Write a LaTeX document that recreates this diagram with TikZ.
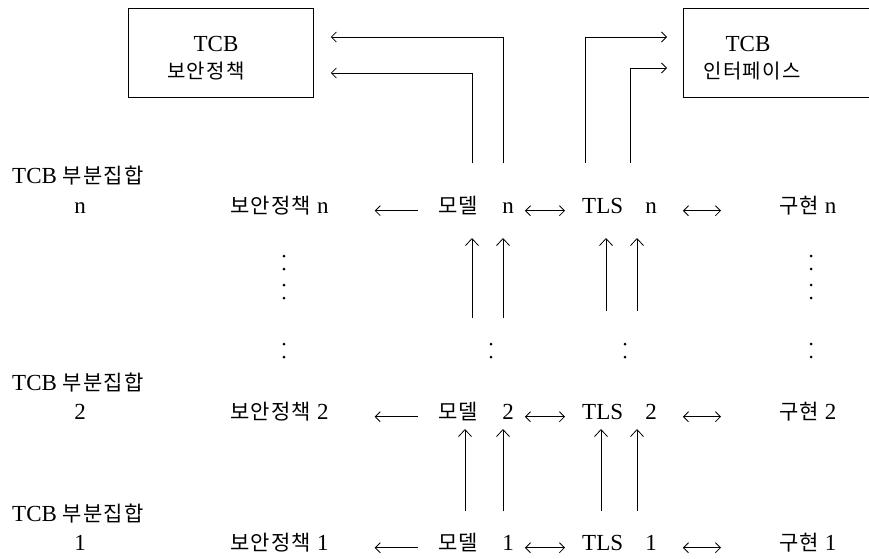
\documentclass[tikz,border=0pt]{standalone}
\usepackage{fontspec}
\setmainfont{Liberation Serif}
\newfontfamily\krfont[LetterSpace=6]{Noto Sans CJK KR}
\newcommand\korean[1]{{\fontsize{21}{25}\selectfont\krfont #1}}
\usetikzlibrary{arrows.meta}
\begin{document}
\begin{tikzpicture}[x=1pt,y=-1pt,
  txt/.style={inner sep=0pt, font=\fontsize{23}{27}\selectfont},
  ktxt/.style={inner sep=0pt, font=\fontsize{20}{24}\selectfont\krfont},
  arr/.style={line width=0.8pt, -{Straight Barb[length=5pt,width=10pt]}},
  darr/.style={line width=0.8pt, {Straight Barb[length=5pt,width=10pt]}-{Straight Barb[length=5pt,width=10pt]}},
  uarr/.style={line width=0.8pt, -{Straight Barb[length=7pt,width=13pt]}},
  dot/.style={circle, fill, inner sep=0pt, minimum size=3pt},
  box/.style={draw, line width=0.8pt, inner sep=0pt}]
\useasboundingbox (0,0) rectangle (869,558);

% top boxes
\node[box, minimum width=185pt, minimum height=89pt, anchor=north west] (lbox) at (128,8) {};
\node[txt, anchor=base] (lt1) at (216,51) {TCB};
\node[ktxt, anchor=base] (lt2) at (206,78) {보안정책};
\begin{scope}
\clip (0,0) rectangle (869,558);
\node[box, minimum width=200pt, minimum height=89pt, anchor=north west] (rbox) at (683,8) {};
\end{scope}
\node[txt, anchor=base] (rt1) at (748,51) {TCB};
\node[ktxt, anchor=base] (rt2) at (752,78) {인터페이스};

% connectors to the boxes
\coordinate (ml1) at (472,163);
\coordinate (ml2) at (503,163);
\coordinate (tr1) at (585,163);
\coordinate (tr2) at (630,163);
\draw[arr] (ml2) |- ([xshift=17pt,yshift=-29pt]lbox.north east);
\draw[arr] (ml1) |- ([xshift=17pt,yshift=-65pt]lbox.north east);
\draw[arr] (tr1) |- ([xshift=-16pt,yshift=-29pt]rbox.north west);
\draw[arr] (tr2) |- ([xshift=-16pt,yshift=-60pt]rbox.north west);

% rows
\foreach \r/\yb/\ys in {n/213/183, 2/419/390, 1/550/521} {
  \node[txt, anchor=base west] (sub\r) at (12,\ys) {TCB \korean{부분집합}};
  \node[txt, anchor=base] (num\r) at (80,\yb) {\r};
  \node[txt, anchor=base west] (pol\r) at (230,\yb) {\korean{보안정책} \r};
  \node[txt, anchor=base west] (mod\r) at (438,\yb) {\korean{모델}};
  \node[txt, anchor=base] (modn\r) at (508,\yb) {\r};
  \node[txt, anchor=base west] (tls\r) at (582,\yb) {TLS};
  \node[txt, anchor=base] (tlsn\r) at (651,\yb) {\r};
  \node[txt, anchor=base west] (imp\r) at (779,\yb) {\korean{구현} \r};
  \draw[arr] ([xshift=-20pt]mod\r.mid west) -- ([xshift=46pt]pol\r.mid east);
  \draw[darr] ([xshift=11pt]modn\r.mid east) -- ([xshift=-17pt]tls\r.mid west);
  \draw[darr] ([xshift=26pt]tlsn\r.mid east) -- ([xshift=-58pt]imp\r.mid west);
}

% upward arrows, n-block
\coordinate (ua1) at (472,318); \coordinate (ua1t) at (472,238);
\coordinate (ua2) at (503,318); \coordinate (ua2t) at (503,238);
\coordinate (ua3) at (606,311); \coordinate (ua3t) at (606,238);
\coordinate (ua4) at (637,311); \coordinate (ua4t) at (637,238);
\draw[uarr] (ua1) -- (ua1t);
\draw[uarr] (ua2) -- (ua2t);
\draw[uarr] (ua3) -- (ua3t);
\draw[uarr] (ua4) -- (ua4t);
% upward arrows, 1 -> 2
\coordinate (ub1) at (465,511); \coordinate (ub1t) at (465,429);
\coordinate (ub2) at (503,511); \coordinate (ub2t) at (503,429);
\coordinate (ub3) at (601,511); \coordinate (ub3t) at (601,429);
\coordinate (ub4) at (637,511); \coordinate (ub4t) at (637,429);
\draw[uarr] (ub1) -- (ub1t);
\draw[uarr] (ub2) -- (ub2t);
\draw[uarr] (ub3) -- (ub3t);
\draw[uarr] (ub4) -- (ub4t);

% dots
\foreach \x/\c in {284/l, 811/r} {
  \foreach \y/\k in {256/a, 269/b, 285/c, 298/d, 344/e, 357/f}
    \node[dot] (dot\c\k) at (\x,\y) {};
}
\foreach \x/\c in {491/m, 625/t} {
  \foreach \y/\k in {344/e, 357/f}
    \node[dot] (dot\c\k) at (\x,\y) {};
}
\end{tikzpicture}
\end{document}
